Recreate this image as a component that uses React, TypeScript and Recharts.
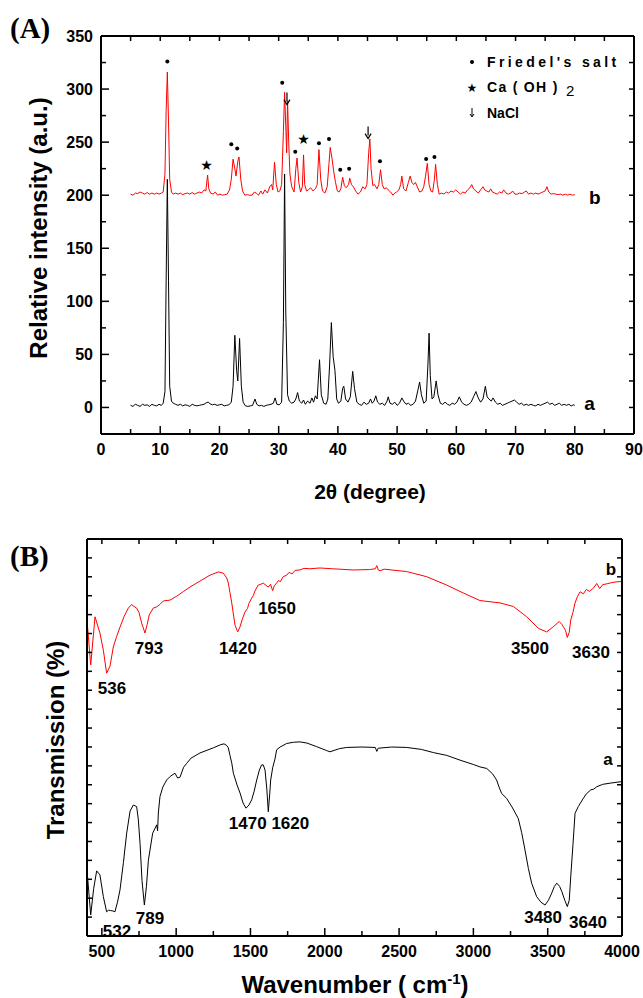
import React from "react";
import { ComposedChart, Line, Scatter, XAxis, YAxis } from "recharts";

const FONT = '"Liberation Sans", Arial, Helvetica, sans-serif';

// (A) XRD patterns: [2theta, intensity]
const xrdA: [number, number][] = [
  [5, 2], [5.4, 1], [5.8, 3], [6.2, 2], [6.6, 1], [7, 3], [7.4, 2], [7.8, 2.5], [8.2, 1], [8.6, 3],
  [9, 2], [9.4, 1.5], [9.8, 3], [10.2, 2], [10.5, 4], [10.8, 15], [11, 120], [11.2, 215], [11.4, 120],
  [11.6, 20], [11.9, 6], [12.2, 4], [12.6, 3], [13, 2], [13.4, 3], [13.8, 1.5], [14.2, 2.5], [14.6, 2],
  [15, 1], [15.4, 3], [15.8, 2], [16.2, 1.5], [16.6, 2], [17, 2.5], [17.4, 3], [17.8, 4.5], [18.1, 5],
  [18.4, 3.5], [18.8, 2.5], [19.2, 3], [19.6, 2], [20, 2.5], [20.4, 3], [20.8, 1.5], [21.2, 2], [21.6, 2.5],
  [22, 5], [22.3, 20], [22.6, 68], [22.9, 35], [23.1, 25], [23.4, 65], [23.7, 20], [24, 5], [24.4, 1.5],
  [24.8, 1], [25.2, 1.5], [25.6, 2], [26, 8], [26.3, 3], [26.7, 1.5], [27.1, 2], [27.5, 1], [27.9, 2],
  [28.3, 2.5], [28.7, 3], [29.1, 4], [29.4, 9], [29.7, 3], [30.1, 2.5], [30.5, 5], [30.8, 80], [31, 220],
  [31.2, 90], [31.5, 12], [31.8, 6], [32.2, 4], [32.6, 5], [32.9, 8], [33.2, 14], [33.5, 6], [33.9, 4],
  [34.2, 7], [34.5, 3], [34.9, 6], [35.3, 4], [35.6, 9], [35.9, 5], [36.2, 11], [36.5, 8], [36.9, 45],
  [37.2, 12], [37.6, 4], [38, 3], [38.3, 8], [38.6, 40], [38.9, 80], [39.2, 48], [39.5, 35], [39.8, 8],
  [40.1, 4], [40.5, 6], [40.8, 18], [41, 20], [41.3, 8], [41.7, 5], [42.1, 10], [42.5, 34], [42.8, 18],
  [43.2, 5], [43.6, 3], [44, 2], [44.4, 5], [44.8, 3], [45.2, 4], [45.5, 8], [45.8, 4], [46.1, 6],
  [46.4, 11], [46.7, 5], [47.1, 3], [47.5, 4], [47.9, 2], [48.3, 6], [48.5, 10], [48.8, 4], [49.2, 3],
  [49.6, 5], [50, 2], [50.4, 4], [50.8, 9], [51.1, 6], [51.5, 3], [51.9, 4], [52.3, 2], [52.7, 3],
  [53.1, 6], [53.5, 16], [53.8, 24], [54.1, 12], [54.5, 4], [54.9, 6], [55.2, 40], [55.4, 70], [55.6, 30],
  [55.9, 8], [56.2, 10], [56.6, 25], [56.9, 12], [57.3, 4], [57.7, 3], [58.1, 5], [58.5, 3], [58.9, 2],
  [59.3, 4], [59.7, 3], [60.1, 5], [60.5, 10], [60.9, 5], [61.3, 3], [61.7, 2], [62.1, 3], [62.5, 5],
  [62.9, 10], [63.3, 15], [63.7, 9], [64.1, 5], [64.5, 8], [64.9, 20], [65.2, 10], [65.5, 8], [65.9, 6],
  [66.2, 9], [66.6, 5], [67, 3], [67.4, 4], [67.8, 2], [68.2, 3], [68.6, 4], [69, 5], [69.4, 6], [69.8, 7],
  [70.2, 5], [70.6, 3], [71, 4], [71.4, 2], [71.8, 3], [72.2, 2], [72.6, 3], [73, 2], [73.4, 1.5],
  [73.8, 3], [74.2, 2], [74.6, 3], [75, 4], [75.4, 5], [75.8, 3], [76.2, 4], [76.6, 2], [77, 3], [77.4, 4],
  [77.8, 2], [78.2, 3], [78.6, 2], [79, 3], [79.4, 1.5], [79.8, 2.5], [80, 2],
];

const xrdB: [number, number][] = [
  [5, 201], [5.4, 200], [5.8, 202], [6.2, 201.5], [6.6, 203], [7, 202], [7.4, 201], [7.8, 202.5], [8.2, 201],
  [8.6, 202], [9, 201], [9.4, 202], [9.8, 201], [10.2, 202], [10.5, 203], [10.8, 220], [11, 280],
  [11.2, 316], [11.4, 270], [11.6, 215], [11.9, 203], [12.2, 201], [12.6, 202], [13, 201], [13.4, 202],
  [13.8, 200.5], [14.2, 201.5], [14.6, 202], [15, 201], [15.4, 202.5], [15.8, 201], [16.2, 202], [16.6, 203],
  [17, 202], [17.4, 205], [17.7, 204], [18, 219], [18.2, 206], [18.5, 202], [18.9, 201], [19.3, 203],
  [19.7, 200], [20.1, 201], [20.5, 200], [20.9, 200.5], [21.3, 201], [21.7, 205], [22, 215], [22.3, 234],
  [22.6, 225], [22.8, 218], [23.1, 232], [23.3, 236], [23.6, 215], [23.9, 204], [24.3, 200], [24.7, 200.5],
  [25.1, 200], [25.5, 200], [25.9, 203], [26.2, 202], [26.6, 200], [27, 204], [27.3, 201], [27.7, 205],
  [28.1, 202], [28.5, 208], [28.8, 210], [29, 205], [29.3, 231], [29.6, 210], [29.9, 203], [30.2, 204],
  [30.5, 210], [30.8, 260], [31, 297], [31.2, 265], [31.35, 240], [31.5, 289], [31.7, 250], [31.9, 220],
  [32.2, 208], [32.6, 203], [32.9, 225], [33.1, 235], [33.4, 212], [33.7, 203], [34, 208], [34.2, 238],
  [34.4, 210], [34.7, 204], [35, 205], [35.4, 207], [35.8, 204], [36.2, 206], [36.5, 210], [36.8, 243],
  [37.1, 215], [37.4, 204], [37.8, 202], [38.2, 208], [38.5, 230], [38.7, 245], [39, 235], [39.3, 222],
  [39.6, 212], [39.9, 204], [40.2, 203], [40.5, 206], [40.8, 217], [41.1, 209], [41.4, 207], [41.8, 210],
  [42, 216], [42.3, 210], [42.6, 208], [43, 204], [43.4, 201], [43.8, 203], [44.2, 208], [44.6, 206],
  [44.9, 210], [45.2, 240], [45.4, 253], [45.6, 225], [45.9, 209], [46.2, 210], [46.6, 206], [46.9, 210],
  [47.2, 224], [47.5, 210], [47.8, 206], [48.2, 207], [48.5, 205], [48.9, 203], [49.3, 200], [49.6, 202],
  [49.9, 203], [50.3, 205], [50.6, 210], [50.8, 218], [51.1, 206], [51.5, 204], [51.9, 212], [52.2, 218],
  [52.5, 212], [52.8, 210], [53.1, 212], [53.4, 208], [53.8, 203], [54.2, 204], [54.5, 208], [54.8, 218],
  [55.1, 230], [55.4, 210], [55.7, 204], [56, 203], [56.3, 215], [56.5, 229], [56.8, 210], [57.1, 201],
  [57.5, 202], [57.9, 201], [58.3, 203], [58.7, 202], [59.1, 204], [59.5, 203], [59.9, 205], [60.3, 203],
  [60.7, 201], [61.1, 203], [61.5, 202], [61.9, 205], [62.3, 207], [62.6, 210], [62.9, 206], [63.3, 204],
  [63.7, 202], [64.1, 205], [64.5, 208], [64.8, 205], [65.1, 204], [65.5, 203], [65.8, 206], [66.1, 203],
  [66.5, 202], [66.9, 201], [67.3, 203], [67.7, 202], [68, 205], [68.4, 202], [68.8, 201], [69.2, 202],
  [69.5, 204], [69.9, 201], [70.3, 201], [70.7, 202], [71.1, 201.5], [71.5, 203], [71.8, 204], [72.2, 201],
  [72.6, 202], [73, 201], [73.4, 202], [73.8, 201], [74.2, 202], [74.6, 203], [75, 204], [75.3, 208],
  [75.6, 203], [76, 201], [76.4, 201.5], [76.8, 201], [77.2, 200.5], [77.6, 201], [78, 200], [78.4, 201],
  [78.8, 200], [79.2, 201], [79.6, 200], [80, 200.5],
];

// phase markers over pattern b
const friedelMarks: [number, number][] = [
  [11.2, 326], [22, 248], [23, 244], [30.6, 306], [32.8, 241], [36.8, 249], [38.5, 253],
  [40.4, 224], [41.9, 225], [47.1, 232], [54.9, 234], [56.3, 236],
];
const caohMarks: [number, number][] = [[17.8, 228], [34.2, 253]];
const naclMarks: [number, number][] = [[31.4, 291], [45.1, 259]];
const curveNamesA: [string, number, number][] = [["b", 83.4, 198], ["a", 82.5, 4]];

const xTicksA = [0, 5, 10, 15, 20, 25, 30, 35, 40, 45, 50, 55, 60, 65, 70, 75, 80, 85, 90];
const yTicksA = [0, 25, 50, 75, 100, 125, 150, 175, 200, 225, 250, 275, 300, 325, 350];

// (B) FTIR spectra: [wavenumber, transmission (arb.)]
const ftirB: [number, number][] = [
  [400, 79.6], [425, 68.3], [454, 80.4], [487, 76.3], [510, 72], [532, 66.2], [555, 68], [577, 72.8],
  [600, 75.5], [622, 77.8], [650, 80.5], [678, 82.6], [700, 83.5], [712, 83.1], [734, 82.6], [750, 81.5],
  [768, 78.8], [790, 76.3], [805, 78.5], [819, 80.9], [846, 82.6], [869, 82.9], [890, 83.5], [914, 84.4],
  [958, 84.6], [1004, 85.6], [1050, 86.8], [1093, 87.9], [1160, 89.4], [1228, 90.9], [1284, 91.7],
  [1317, 91.4], [1340, 90.2], [1351, 88.9], [1362, 86.5], [1374, 83.9], [1396, 78.3], [1414, 76.6],
  [1429, 77.8], [1445, 79.8], [1463, 81.6], [1480, 82.5], [1490, 83.8], [1508, 85.1], [1520, 85.8],
  [1530, 86.9], [1552, 88.4], [1570, 88.6], [1586, 88.9], [1605, 88.3], [1620, 87.9], [1635, 88.6],
  [1649, 87], [1660, 88.2], [1676, 88.9], [1690, 89.6], [1700, 89.2], [1720, 90.5], [1744, 90.9],
  [1760, 91.6], [1780, 91.2], [1800, 92.1], [1833, 92.2], [1860, 92.6], [1900, 92.5], [1968, 92.7],
  [2050, 92.5], [2192, 92.2], [2300, 92.3], [2340, 92.5], [2350, 93.3], [2360, 92.2], [2372, 92],
  [2400, 92.4], [2551, 91.8], [2686, 90.5], [2820, 88.4], [2932, 86.4], [3044, 84.5], [3179, 83.9],
  [3269, 83], [3359, 80.4], [3437, 77.5], [3493, 76.6], [3538, 77.9], [3565, 78.8], [3578, 79.2],
  [3595, 78.5], [3605, 77.9], [3620, 77], [3632, 75.2], [3645, 76.5], [3655, 79.6], [3670, 81.5],
  [3684, 83.9], [3700, 85.5], [3718, 86.7], [3740, 86.2], [3760, 87.3], [3780, 86.8], [3807, 87.6],
  [3830, 88.8], [3850, 87.5], [3870, 88.5], [3897, 88.7], [3930, 89], [3960, 89.2], [4000, 89.3],
];

const ftirA: [number, number][] = [
  [400, 16.6], [425, 5.3], [445, 12], [465, 16.4], [487, 15.4], [510, 9.9], [532, 6.1], [545, 6.5],
  [559, 6.4], [575, 6.3], [588, 6.1], [605, 8.5], [622, 11.6], [645, 18.5], [667, 25.9], [690, 31.5],
  [712, 33], [734, 32.6], [745, 29.5], [757, 23.3], [770, 14], [786, 7.8], [800, 12.5], [813, 19.1],
  [842, 25.9], [869, 28], [875, 26.5], [880, 31], [891, 35.1], [910, 37.5], [936, 39.3], [960, 40.2],
  [992, 41], [1010, 39.8], [1026, 40], [1050, 42.5], [1071, 43.5], [1100, 44.8], [1160, 46.1],
  [1250, 47.4], [1300, 48.2], [1322, 48.4], [1340, 48], [1351, 47.4], [1362, 45.5], [1374, 43.6],
  [1385, 41], [1410, 38], [1430, 36], [1450, 33.5], [1470, 32.2], [1490, 33], [1508, 34.3], [1525, 36.5],
  [1542, 39.3], [1560, 41.8], [1575, 43.1], [1586, 43.1], [1598, 41.8], [1610, 37], [1620, 31.3],
  [1630, 36], [1636, 39.3], [1650, 42.5], [1665, 44.6], [1676, 46.9], [1700, 47.6], [1744, 48.5],
  [1790, 48.8], [1833, 48.9], [1880, 48.6], [1945, 47.7], [2013, 46.7], [2035, 46.4], [2100, 47.2],
  [2148, 47.5], [2250, 47.6], [2340, 47.5], [2350, 46.5], [2360, 47.3], [2450, 47.6], [2551, 47.5],
  [2650, 47], [2731, 46.2], [2820, 45.5], [2910, 44.3], [3000, 43.2], [3044, 42.6], [3090, 42.2],
  [3130, 40.8], [3156, 39.3], [3175, 37.3], [3190, 35.9], [3223, 34.7], [3260, 32.5], [3302, 29.6],
  [3325, 26], [3347, 21.7], [3370, 17], [3392, 13.3], [3426, 9.9], [3455, 8.5], [3482, 7.8], [3505, 9],
  [3527, 10.8], [3545, 12.5], [3561, 13.3], [3580, 12.5], [3595, 11.2], [3615, 9], [3632, 7.4],
  [3645, 9], [3655, 14.9], [3670, 23], [3684, 30.9], [3706, 32.6], [3740, 34.7], [3760, 35.8],
  [3790, 36.8], [3810, 37], [3830, 37.6], [3870, 38.2], [3920, 38.5], [4000, 38.9],
];

const peakLabelsB: [string, number, number][] = [
  ["536", 568, 62.5], ["793", 817, 72.5], ["1420", 1416, 72.5], ["1650", 1679, 82.6],
  ["3500", 3381, 72.5], ["3630", 3791, 71.5], ["b", 3926, 92.4], ["a", 3906, 44.5],
  ["1470 1620", 1625, 28.5], ["532", 602, 1.3], ["789", 824, 4.5], ["3480", 3469, 4.8], ["3640", 3771, 3.5],
];

const xTicksB = [500, 750, 1000, 1250, 1500, 1750, 2000, 2250, 2500, 2750, 3000, 3250, 3500, 3750, 4000];
const yTicksB = Array.from({ length: 22 }, (_, i) => (i * 100) / 21);

const pts = (arr: [number, number][]) => arr.map(([x, y]) => ({ x, y }));
const txt = (arr: [string, number, number][]) => arr.map(([t, x, y]) => ({ t, x, y }));

function tickFn(side: string, major: number, labelled: boolean, majLen: number, minLen: number) {
  return (props: any) => {
    const { x, y, payload } = props;
    const v = payload.value;
    const isMajor = Math.abs(v / major - Math.round(v / major)) < 1e-6;
    const len = isMajor ? majLen : minLen;
    let line;
    let label = null;
    if (side === "bottom") {
      line = <line x1={x} y1={y} x2={x} y2={y - len} stroke="#000" strokeWidth={1.5} />;
      if (labelled && isMajor)
        label = (
          <text x={x} y={y + 21} textAnchor="middle" fontSize={16} fontWeight="bold" fontFamily={FONT}>
            {v}
          </text>
        );
    } else if (side === "top") {
      line = <line x1={x} y1={y} x2={x} y2={y + len} stroke="#000" strokeWidth={1.5} />;
    } else if (side === "left") {
      line = <line x1={x} y1={y} x2={x + len} y2={y} stroke="#000" strokeWidth={1.5} />;
      if (labelled && isMajor)
        label = (
          <text x={x - 8} y={y + 6} textAnchor="end" fontSize={16} fontWeight="bold" fontFamily={FONT}>
            {v}
          </text>
        );
    } else {
      line = <line x1={x} y1={y} x2={x - len} y2={y} stroke="#000" strokeWidth={1.5} />;
    }
    return (
      <g>
        {line}
        {label}
      </g>
    );
  };
}

const dotShape = (p: any) => <circle cx={p.cx} cy={p.cy} r={2} fill="#000" />;
const starShape = (p: any) => (
  <text x={p.cx} y={p.cy + 5} textAnchor="middle" fontSize={14} fontFamily="DejaVu Sans">
    ★
  </text>
);
const arrowShape = (p: any) => (
  <g>
    <line x1={p.cx} y1={p.cy - 6} x2={p.cx} y2={p.cy + 3} stroke="#000" strokeWidth={1.2} />
    <path d={`M${p.cx - 3},${p.cy + 1} L${p.cx},${p.cy + 6} L${p.cx + 3},${p.cy + 1}`} fill="none" stroke="#000" strokeWidth={1.2} />
  </g>
);
const nameShape = (size: number) => (p: any) => (
  <text x={p.cx} y={p.cy} dy="0.35em" textAnchor="middle" fontSize={size} fontWeight="bold" fontFamily={FONT}>
    {p.payload.t}
  </text>
);

const axisLine = { stroke: "#000", strokeWidth: 2 };

export default function App() {
  return (
    <div style={{ position: "absolute", left: 0, top: 0, width: 643, height: 998, background: "#fff" }}>
      {/* (A) XRD */}
      <div style={{ position: "absolute", left: 0, top: 0 }}>
        <ComposedChart width={643} height={520} margin={{ top: 35, right: 8, bottom: 85, left: 100 }}>
          <XAxis xAxisId="b" dataKey="x" type="number" domain={[0, 90]} ticks={xTicksA} interval={0}
            axisLine={axisLine} tickLine={false} tickSize={0} tickMargin={0} height={1}
            tick={tickFn("bottom", 10, true, 8, 5)} allowDataOverflow />
          <XAxis xAxisId="t" orientation="top" dataKey="x" type="number" domain={[0, 90]} ticks={xTicksA} interval={0}
            axisLine={axisLine} tickLine={false} tickSize={0} tickMargin={0} height={1}
            tick={tickFn("top", 10, false, 5, 5)} allowDataOverflow />
          <YAxis yAxisId="l" type="number" domain={[-25, 350]} ticks={yTicksA} interval={0}
            axisLine={axisLine} tickLine={false} tickSize={0} tickMargin={0} width={1}
            tick={tickFn("left", 50, true, 8, 5)} allowDataOverflow />
          <YAxis yAxisId="r" orientation="right" type="number" domain={[-25, 350]} ticks={yTicksA} interval={0}
            axisLine={axisLine} tickLine={false} tickSize={0} tickMargin={0} width={1}
            tick={tickFn("right", 50, false, 5, 5)} allowDataOverflow />
          <Line xAxisId="b" yAxisId="l" data={pts(xrdB)} dataKey="y" type="linear" dot={false}
            stroke="#ff0000" strokeWidth={1} isAnimationActive={false} />
          <Line xAxisId="b" yAxisId="l" data={pts(xrdA)} dataKey="y" type="linear" dot={false}
            stroke="#000" strokeWidth={1} isAnimationActive={false} />
          <Scatter xAxisId="b" yAxisId="l" data={pts(friedelMarks)} dataKey="y" shape={dotShape} isAnimationActive={false} />
          <Scatter xAxisId="b" yAxisId="l" data={pts(caohMarks)} dataKey="y" shape={starShape} isAnimationActive={false} />
          <Scatter xAxisId="b" yAxisId="l" data={pts(naclMarks)} dataKey="y" shape={arrowShape} isAnimationActive={false} />
          <Scatter xAxisId="b" yAxisId="l" data={txt(curveNamesA)} dataKey="y" shape={nameShape(19)} isAnimationActive={false} />
        </ComposedChart>
      </div>

      {/* (B) FTIR */}
      <div style={{ position: "absolute", left: 0, top: 520 }}>
        <ComposedChart width={643} height={478} margin={{ top: 18, right: 20, bottom: 61, left: 86 }}>
          <XAxis xAxisId="b" dataKey="x" type="number" domain={[400, 4000]} ticks={xTicksB} interval={0}
            axisLine={axisLine} tickLine={false} tickSize={0} tickMargin={0} height={1}
            tick={tickFn("bottom", 500, true, 8, 5)} allowDataOverflow />
          <XAxis xAxisId="t" orientation="top" dataKey="x" type="number" domain={[400, 4000]} ticks={xTicksB} interval={0}
            axisLine={axisLine} tickLine={false} tickSize={0} tickMargin={0} height={1}
            tick={tickFn("top", 500, false, 5, 5)} allowDataOverflow />
          <YAxis yAxisId="l" type="number" domain={[0, 100]} ticks={yTicksB} interval={0}
            axisLine={axisLine} tickLine={false} tickSize={0} tickMargin={0} width={1}
            tick={tickFn("left", 1000, false, 5, 5)} allowDataOverflow />
          <YAxis yAxisId="r" orientation="right" type="number" domain={[0, 100]} ticks={yTicksB} interval={0}
            axisLine={axisLine} tickLine={false} tickSize={0} tickMargin={0} width={1}
            tick={tickFn("right", 1000, false, 5, 5)} allowDataOverflow />
          <Line xAxisId="b" yAxisId="l" data={pts(ftirB)} dataKey="y" type="linear" dot={false}
            stroke="#ff0000" strokeWidth={1} isAnimationActive={false} />
          <Line xAxisId="b" yAxisId="l" data={pts(ftirA)} dataKey="y" type="linear" dot={false}
            stroke="#000" strokeWidth={1} isAnimationActive={false} />
          <Scatter xAxisId="b" yAxisId="l" data={txt(peakLabelsB)} dataKey="y" shape={nameShape(17)} isAnimationActive={false} />
        </ComposedChart>
      </div>

      {/* titles, axis names, legend */}
      <svg width={643} height={998} style={{ position: "absolute", left: 0, top: 0, pointerEvents: "none" }}>
        <text x={10} y={38} fontSize={29} fontWeight="bold" fontFamily='"Liberation Serif", "Times New Roman", serif'>(A)</text>
        <text x={10} y={566} fontSize={29} fontWeight="bold" fontFamily='"Liberation Serif", "Times New Roman", serif'>(B)</text>

        <text transform="translate(47,228) rotate(-90)" textAnchor="middle" fontSize={24} fontWeight="bold" fontFamily={FONT}>
          Relative intensity (a.u.)
        </text>
        <text x={370} y={499} textAnchor="middle" fontSize={21} fontWeight="bold" fontFamily={FONT}>
          2θ (degree)
        </text>

        <text transform="translate(64,740) rotate(-90)" textAnchor="middle" fontSize={24} fontWeight="bold" fontFamily={FONT}>
          Transmission (%)
        </text>
        <text x={355} y={993} textAnchor="middle" fontSize={24} fontWeight="bold" fontFamily={FONT}>
          Wavenumber ( cm<tspan dy={-9} fontSize={15}>-1</tspan><tspan dy={9}>)</tspan>
        </text>

        {/* legend */}
        <circle cx={472} cy={62} r={2} fill="#000" />
        <text x={487} y={67} fontSize={14} fontWeight="bold" letterSpacing={3.4} fontFamily={FONT}>Friedel's salt</text>
        <text x={472} y={92} textAnchor="middle" fontSize={12} fontFamily="DejaVu Sans">★</text>
        <text x={487} y={92} fontSize={14} fontWeight="bold" letterSpacing={1.3} fontFamily={FONT}>Ca ( OH )</text>
        <text x={566} y={96} fontSize={15} fontFamily={FONT}>2</text>
        <line x1={472} y1={108} x2={472} y2={116} stroke="#000" strokeWidth={1} />
        <path d="M470,114 L472,117 L474,114" fill="none" stroke="#000" strokeWidth={1} />
        <text x={487} y={118} fontSize={14} fontWeight="bold" fontFamily={FONT}>NaCl</text>
      </svg>
    </div>
  );
}
